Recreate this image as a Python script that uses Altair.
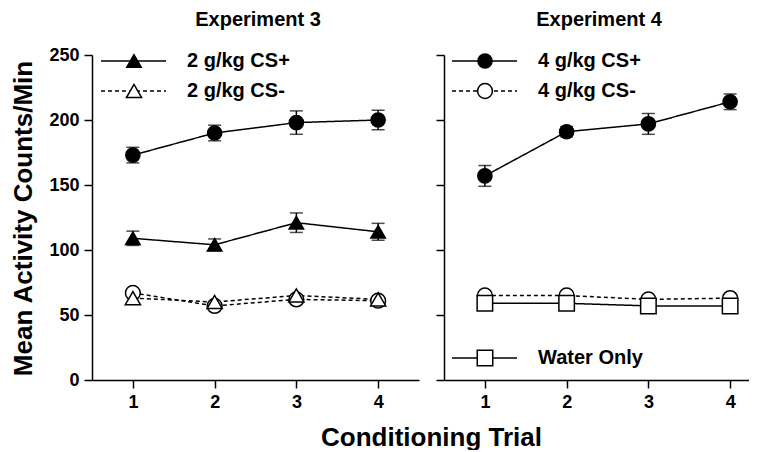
import altair as alt
import pandas as pd

FONT = "Liberation Sans"

trials = [1, 2, 3, 4]

# Experiment 3
e3_circle_filled = [173, 190, 198, 200]
e3_circle_filled_err = [6, 6, 9, 7.5]
e3_cs_plus = [109, 104, 121, 114]
e3_cs_plus_err = [5.5, 4.5, 7.5, 6.5]
e3_circle_open = [67, 57, 62, 61]
e3_cs_minus = [63, 60, 65, 62]

# Experiment 4
e4_cs_plus = [157, 191, 197, 214]
e4_cs_plus_err = [8, 4, 8, 6]
e4_cs_minus = [65, 65, 62, 63]
water_only = [59, 59, 57, 57]

series_names = ["circle_filled", "tri_filled", "circle_open", "tri_open", "square_open"]
shape_range = ["circle", "triangle-up", "circle", "triangle-up", "square"]
fill_range = ["black", "black", "white", "white", "white"]
dash_range = [[1, 0], [1, 0], [4, 3], [4, 3], [1, 0]]
size_range = [200, 240, 230, 240, 250]

shape_scale = alt.Scale(domain=series_names, range=shape_range)
fill_scale = alt.Scale(domain=series_names, range=fill_range)
dash_scale = alt.Scale(domain=series_names, range=dash_range)
size_scale = alt.Scale(domain=series_names, range=size_range)


def long_df(pairs):
    rows = []
    for name, vals, errs in pairs:
        for i, t in enumerate(trials):
            rows.append({"trial": t, "value": vals[i], "err": (errs[i] if errs else 0), "series": name})
    return pd.DataFrame(rows)


e3_df = long_df([
    ("circle_filled", e3_circle_filled, e3_circle_filled_err),
    ("tri_filled", e3_cs_plus, e3_cs_plus_err),
    ("circle_open", e3_circle_open, None),
    ("tri_open", e3_cs_minus, None),
])
e4_df = long_df([
    ("circle_filled", e4_cs_plus, e4_cs_plus_err),
    ("circle_open", e4_cs_minus, None),
    ("square_open", water_only, None),
])


def point_mark():
    return dict(stroke="black", strokeWidth=1.5, opacity=1, fillOpacity=1, filled=False)


def legend_row(label, series, y, x0):
    d = pd.DataFrame({"label": [label], "series": [series]})
    c = alt.Chart(d)
    line = c.mark_rule(color="black", strokeWidth=1.5).encode(
        x=alt.value(x0), x2=alt.value(x0 + 65), y=alt.value(y),
        strokeDash=alt.StrokeDash("series:N", scale=dash_scale, legend=None),
    )
    pt = c.mark_point(**point_mark()).encode(
        x=alt.value(x0 + 33), y=alt.value(y),
        shape=alt.Shape("series:N", scale=shape_scale, legend=None),
        fill=alt.Fill("series:N", scale=fill_scale, legend=None),
        size=alt.Size("series:N", scale=size_scale, legend=None),
    )
    tx = c.mark_text(align="left", baseline="middle", fontSize=20, fontWeight="bold",
                     font=FONT, color="black").encode(
        x=alt.value(x0 + 86), y=alt.value(y), text="label:N")
    return [line, pt, tx]


def panel(df, xmax, width, title, left, legends, title_x):
    xscale = alt.Scale(domain=[0.5, xmax], nice=False, zero=False)
    yscale = alt.Scale(domain=[0, 250], nice=False)
    if left:
        xaxis = alt.Axis(values=trials, format="d", title="Conditioning Trial",
                         titleX=339, titleY=57, titleBaseline="middle", titleAlign="center",
                         titleFontSize=26)
        yaxis = alt.Axis(values=[0, 50, 100, 150, 200, 250], title="Mean Activity Counts/Min",
                         titleX=-69, titleY=163, titleAngle=270, titleBaseline="middle",
                         titleAlign="center", titleFontSize=26)
    else:
        xaxis = alt.Axis(values=trials, format="d", title=None)
        yaxis = alt.Axis(values=[0, 50, 100, 150, 200, 250], labels=False, title=None)

    def X(f="trial:Q"):
        return alt.X(f, scale=xscale, axis=xaxis)

    def Y(f):
        return alt.Y(f, scale=yscale, axis=yaxis)

    base = alt.Chart(df)
    lines = base.mark_line(color="black", strokeWidth=1.5).encode(
        x=X(), y=Y("value:Q"), detail="series:N",
        strokeDash=alt.StrokeDash("series:N", scale=dash_scale, legend=None),
    )
    errs = base.transform_filter("datum.err > 0").transform_calculate(
        lo="datum.value - datum.err", hi="datum.value + datum.err")
    bars = errs.mark_rule(color="black", strokeWidth=1.5).encode(
        x=X(), y=Y("lo:Q"), y2="hi:Q")
    cap_lo = errs.mark_tick(color="black", thickness=1.5, size=13, orient="horizontal").encode(
        x=X(), y=Y("lo:Q"))
    cap_hi = errs.mark_tick(color="black", thickness=1.5, size=13, orient="horizontal").encode(
        x=X(), y=Y("hi:Q"))
    pts = base.mark_point(**point_mark()).encode(
        x=X(), y=Y("value:Q"),
        shape=alt.Shape("series:N", scale=shape_scale, legend=None),
        fill=alt.Fill("series:N", scale=fill_scale, legend=None),
        size=alt.Size("series:N", scale=size_scale, legend=None),
    )
    ttl = alt.Chart(pd.DataFrame({"t": [title]})).mark_text(
        align="center", baseline="middle", fontSize=20, fontWeight="bold", font=FONT, color="black"
    ).encode(x=alt.value(title_x), y=alt.value(-35), text="t:N")

    layers = [lines, bars, cap_lo, cap_hi, pts, ttl]
    for lg in legends:
        layers += legend_row(*lg)
    return alt.layer(*layers).properties(width=width, height=325)


RIGHT_W = 305
left = panel(e3_df, 4.5, 327, "Experiment 3", True,
             [("2 g/kg CS+", "tri_filled", 6, 9), ("2 g/kg CS-", "tri_open", 36, 9)], 166)
right = panel(e4_df, 0.5 + RIGHT_W / 81.75, RIGHT_W, "Experiment 4", False,
              [("4 g/kg CS+", "circle_filled", 6, 8), ("4 g/kg CS-", "circle_open", 36, 8),
               ("Water Only", "square_open", 303, 8)], 155)

chart = alt.hconcat(left, right, spacing=25, bounds="flush").properties(
    padding={"left": 1, "top": 2, "right": 0, "bottom": 0}
).configure_view(stroke=None).configure_axis(
    domainColor="black", domainWidth=1.5, tickColor="black", tickWidth=1.5, tickSize=8,
    labelFont=FONT, labelFontSize=18, labelFontWeight="bold", labelColor="black",
    labelPadding=5, grid=False, titleFont=FONT, titleFontWeight="bold", titleColor="black",
)

chart.save("out.html", embed_options={"renderer": "svg", "actions": False})
